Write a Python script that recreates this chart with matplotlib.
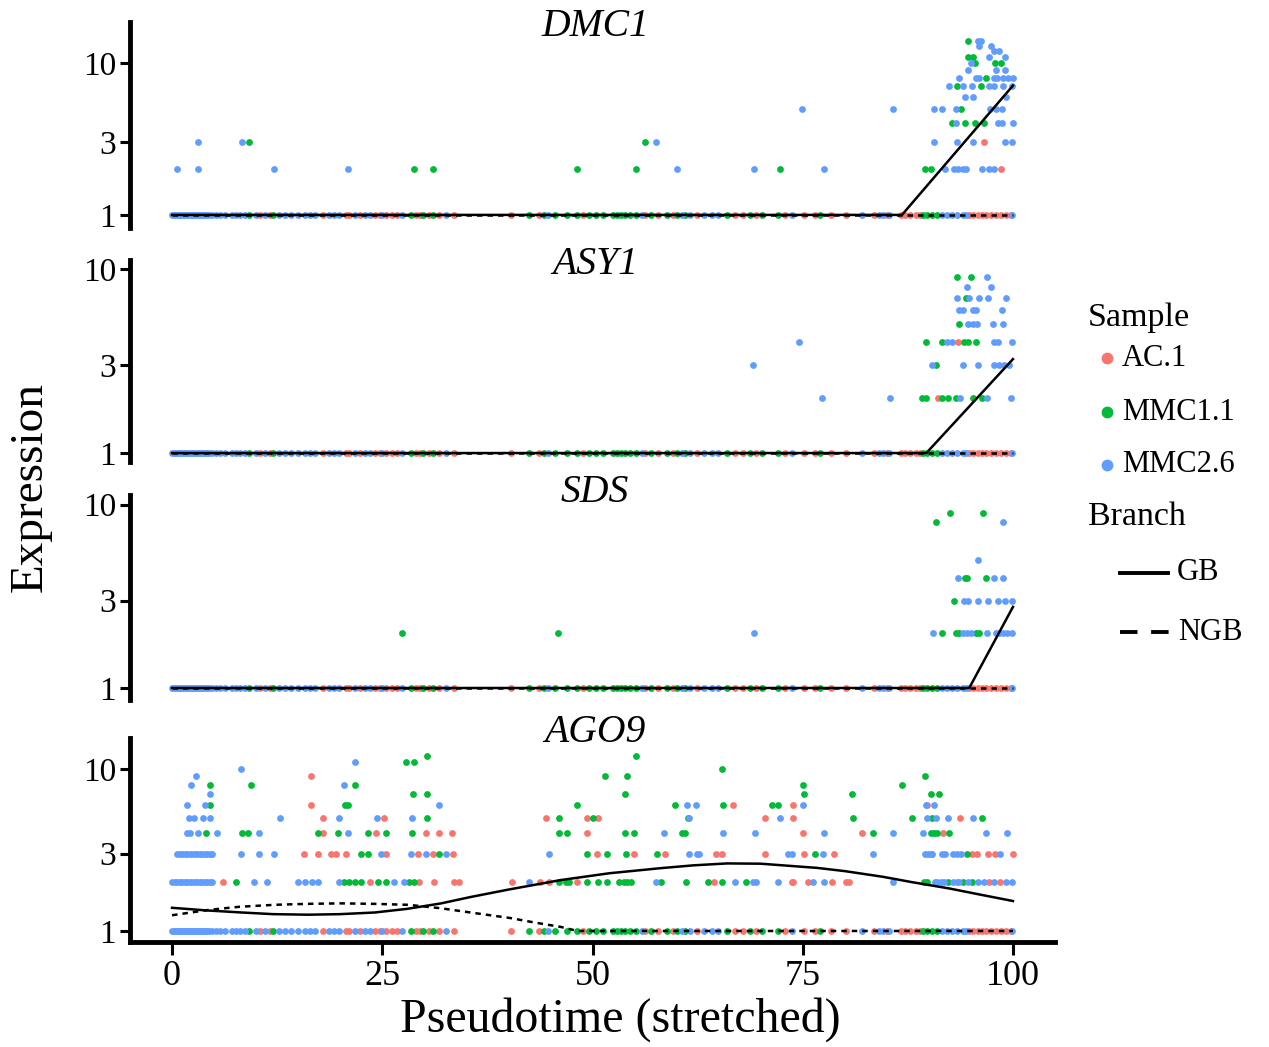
import matplotlib.pyplot as plt
from matplotlib.lines import Line2D
from matplotlib.ticker import NullLocator
import numpy as np

plt.rcParams["font.family"] = ["Liberation Serif", "DejaVu Serif"]

W, H = 1269, 1047

genes = ["DMC1", "ASY1", "SDS", "AGO9"]
samples = ["AC.1", "MMC1.1", "MMC2.6"]
sample_colors = ["#F8766D", "#00BA38", "#619CFF"]

# pseudotime of every cell, per sample (these sit on the zero-expression row)
cells_ac = [10.4, 11.6, 18.0, 20.7, 21.1, 22.3, 24.1, 24.7, 25.5, 26.1, 26.7, 29.0,
            29.5, 30.5, 31.8, 33.5, 40.3, 43.6, 48.9, 56.3, 57.8, 59.6, 62.4, 66.9,
            67.9, 69.5, 72.9, 75.2, 76.4, 78.4, 80.2, 83.5, 85.0, 86.7, 87.2, 87.7,
            88.5, 88.9, 94.8, 95.3, 95.8, 96.3, 96.8, 97.4, 98.0, 98.6, 99.2, 99.8]
cells_mmc1 = [9.2, 12.0, 28.4, 29.9, 31.0, 42.5, 44.2, 45.5, 47.0, 48.2, 49.6, 50.4,
              51.2, 52.4, 52.9, 53.4, 53.9, 54.5, 55.2, 57.0, 58.8, 60.0, 61.0, 66.0,
              68.7, 70.1, 72.0, 77.0, 89.3, 89.8, 90.4, 91.0]
cells_mmc2 = [0.0, 0.2, 0.4, 0.6, 0.8, 1.0, 1.2, 1.4, 1.6, 1.8, 2.0, 2.2, 2.4, 2.6,
              2.8, 3.0, 3.2, 3.4, 3.6, 3.8, 4.0, 4.2, 4.4, 4.7, 5.2, 5.7, 6.3, 7.1,
              7.6, 8.1, 8.7, 10.0, 11.0, 12.7, 13.4, 14.2, 15.0, 15.8, 16.4, 17.0,
              18.7, 19.3, 19.9, 21.8, 22.9, 23.5, 25.0, 27.3, 32.6, 44.7, 55.9, 60.7,
              61.6, 63.2, 64.2, 64.9, 73.7, 82.1, 84.1, 84.6, 85.2, 91.6, 92.2, 92.8,
              93.4, 94.0, 94.4, 99.9]

# expressed cells: expression level -> pseudotimes
dmc1_ac = {2: [98.6], 3: [96.6]}
dmc1_mmc1 = {2: [28.8, 31.0, 48.2, 55.2, 72.3, 89.5, 90.3], 3: [9.1, 56.3],
             4: [92.7, 94.3, 95.5, 96.6], 5: [93.8], 7: [93.4, 96.2], 8: [96.8],
             10: [95.5, 97.9, 98.6], 11: [94.6, 95.2], 14: [94.6]}
dmc1_mmc2 = {2: [0.6, 3.1, 12.1, 20.9, 60.0, 69.2, 77.5, 91.9, 93.0, 93.5, 94.0, 94.4,
                 96.3, 97.2, 97.8],
             3: [3.1, 8.3, 57.6, 90.6, 93.4, 95.3, 99.1, 99.9],
             4: [93.2, 98.2, 98.7, 100.0],
             5: [74.9, 85.7, 90.6, 91.6, 93.2, 97.3, 98.0, 98.7],
             6: [94.3, 95.3, 99.2],
             7: [92.4, 94.0, 95.1, 97.2, 97.7, 98.8, 99.9],
             8: [93.6, 95.6, 96.0, 97.7, 98.1, 98.8, 99.4, 100.0],
             9: [94.6, 98.0, 99.1], 10: [95.0], 11: [97.2, 99.0], 12: [97.8, 98.3],
             13: [96.0, 97.4], 14: [95.8, 96.2]}

asy1_ac = {2: [91.1], 4: [93.5]}
asy1_mmc1 = {2: [89.2, 89.7, 91.6, 92.3, 93.2, 95.3, 96.3], 3: [90.9],
             4: [89.7, 91.6, 94.2, 94.6, 95.6], 5: [93.6], 7: [94.4], 9: [93.4, 95.0]}
asy1_mmc2 = {2: [77.3, 85.4, 93.7, 96.9, 99.8],
             3: [69.1, 90.4, 94.0, 95.9, 97.7, 98.3, 98.9, 99.5],
             4: [74.6, 92.2, 92.8, 97.8, 98.2, 99.9],
             5: [94.7, 95.2, 95.7, 97.6, 98.8],
             6: [93.6, 94.1, 95.2, 95.6, 98.7],
             7: [93.4, 94.8, 96.0, 97.0, 99.2],
             8: [94.5, 97.4], 9: [96.9]}

sds_ac = {}
sds_mmc1 = {2: [27.3, 45.9, 91.6, 93.2, 93.6, 95.6, 96.0], 3: [93.0],
            4: [94.3, 94.5, 96.8], 8: [90.9], 9: [92.5, 96.4]}
sds_mmc2 = {2: [69.2, 90.5, 94.1, 94.5, 95.0, 96.9, 98.0, 98.3, 98.8, 99.3, 99.9],
            3: [94.2, 94.6, 95.9, 97.0, 98.2, 99.0, 99.9],
            4: [93.5, 97.8, 98.8], 5: [95.9], 8: [98.8]}

ago9_ac = {2: [6.1, 23.5, 29.4, 31.1, 33.5, 34.1, 40.4, 43.7, 44.8, 48.2, 64.4, 73.7,
               73.9, 75.6, 78.5, 80.2, 80.5, 97.2, 98.4],
           3: [15.7, 17.3, 18.9, 19.5, 20.7, 25.4, 29.3, 31.0, 33.4, 50.5, 54.9, 58.6,
               64.7, 65.4, 70.5, 75.1, 78.7, 95.1, 95.7, 97.0, 97.9, 100.0],
           4: [18.0, 24.3, 30.2, 31.7, 33.3, 49.3, 75.0, 82.1, 91.7],
           5: [18.0, 25.2, 44.5, 49.3, 50.6, 70.5, 73.8, 93.7],
           6: [16.5, 66.7, 73.8, 89.8], 9: [16.5]}
ago9_mmc1 = {2: [7.6, 20.5, 21.1, 21.7, 22.5, 24.5, 25.5, 28.2, 28.8, 46.0, 46.9, 47.2,
                 49.4, 50.6, 51.7, 53.2, 53.7, 54.1, 54.6, 58.2, 61.1, 63.7, 65.4, 68.2,
                 89.4, 89.8, 92.3, 94.1, 95.1],
             3: [22.5, 23.3, 31.8, 49.3, 51.7, 54.0, 57.7, 76.4, 94.5],
             4: [4.0, 8.3, 9.0, 17.3, 19.7, 23.3, 25.5, 28.5, 46.0, 47.0, 53.9, 54.9,
                 60.7, 61.0, 83.3, 90.3, 90.6, 91.0, 92.4],
             5: [30.3, 46.0, 50.1, 61.3, 81.0, 88.0, 90.4, 96.3],
             6: [4.5, 20.6, 20.9, 48.2, 59.8, 65.5, 71.4, 72.0],
             7: [28.7, 30.3, 53.9, 75.1, 80.9, 90.2, 91.2],
             8: [4.5, 9.4, 21.7, 75.0, 86.8], 9: [51.5, 54.1, 89.5], 10: [65.4],
             11: [27.8, 28.8], 12: [30.3, 55.2]}
ago9_mmc2 = {2: [0.0, 0.3, 0.6, 0.9, 1.2, 1.5, 1.8, 2.1, 2.4, 2.7, 3.0, 3.3, 3.6, 3.9,
                 4.2, 4.5, 4.7, 9.8, 11.3, 15.0, 15.8, 16.6, 17.3, 19.8, 26.4, 27.6,
                 42.5, 57.5, 66.9, 69.1, 69.4, 72.0, 76.2, 77.5, 85.7, 90.7, 91.0, 91.4,
                 91.8, 92.9, 93.3, 93.6, 94.7, 95.8, 96.5, 97.8, 99.2, 99.9],
             3: [0.6, 0.9, 1.2, 1.5, 1.8, 2.1, 2.4, 2.7, 3.0, 3.3, 3.6, 3.9, 4.2, 4.5,
                 4.7, 8.2, 10.3, 12.1, 24.8, 28.4, 30.2, 32.6, 44.8, 61.5, 62.4, 62.7,
                 73.3, 73.7, 77.4, 83.3, 89.5, 89.9, 90.2, 90.4, 91.6, 91.9, 92.9, 93.4,
                 93.8, 98.4],
             4: [1.8, 2.1, 3.1, 5.3, 10.3, 20.9, 58.5, 65.5, 69.3, 77.5, 85.7, 89.3,
                 96.8, 99.3],
             5: [2.0, 2.6, 3.7, 4.5, 12.8, 19.8, 24.4, 28.5, 61.5, 72.3, 89.8, 90.9,
                 92.3, 95.3],
             6: [1.8, 3.9, 31.8, 61.2, 62.3, 75.0, 89.6, 90.6],
             7: [4.5], 8: [2.3, 20.5], 9: [2.8], 10: [8.2], 11: [21.7]}

# fitted branch curves (pseudotime, expression)
dmc1_gb = ([0, 86.8, 100], [1, 1, 7.1])
dmc1_ngb = ([0, 100], [1, 1])
asy1_gb = ([0, 89.7, 100], [1, 1, 3.24])
asy1_ngb = ([0, 100], [1, 1])
sds_gb = ([0, 94.8, 100], [1, 1, 2.77])
sds_ngb = ([0, 100], [1, 1])
ago9_gb = ([0, 4, 8.3, 12, 16.2, 20, 24.1, 28, 32, 35.5, 40, 46.2, 52, 58.1, 62, 66,
            70, 76.7, 80, 84.5, 88, 92.4, 96, 100],
           [1.39, 1.34, 1.30, 1.27, 1.26, 1.27, 1.30, 1.37, 1.48, 1.62, 1.80, 2.06,
            2.27, 2.44, 2.54, 2.61, 2.60, 2.45, 2.34, 2.16, 2.00, 1.83, 1.68, 1.53])
ago9_ngb = ([0, 4.4, 8, 12.2, 16, 20.1, 24, 28.1, 32, 35.5, 40.3, 43, 46.2, 48.2, 100],
            [1.25, 1.35, 1.41, 1.45, 1.47, 1.48, 1.47, 1.45, 1.38, 1.30, 1.20, 1.13,
             1.06, 1.0, 1.0])

expr = {"DMC1": [dmc1_ac, dmc1_mmc1, dmc1_mmc2],
        "ASY1": [asy1_ac, asy1_mmc1, asy1_mmc2],
        "SDS": [sds_ac, sds_mmc1, sds_mmc2],
        "AGO9": [ago9_ac, ago9_mmc1, ago9_mmc2]}
curves = {"DMC1": (dmc1_gb, dmc1_ngb), "ASY1": (asy1_gb, asy1_ngb),
          "SDS": (sds_gb, sds_ngb), "AGO9": (ago9_gb, ago9_ngb)}
cells = [cells_ac, cells_mmc1, cells_mmc2]

# panel frames in pixels (top, bottom) and y limits
panel_px = [(22, 228), (260, 462), (495, 700), (738, 942)]
ylims = [(0.82, 18.6), (0.894, 11.2), (0.86, 11.3), (0.855, 15.5)]
title_y = [27, 265, 492, 733]

fig = plt.figure(figsize=(W / 100, H / 100), dpi=100)

pt_size = 24
for i, gene in enumerate(genes):
    top, bot = panel_px[i]
    ax = fig.add_axes([130 / W, 1 - bot / H, 925 / W, (bot - top) / H])
    ax.set_yscale("log")
    ax.set_xlim(-5, 105)
    ax.set_ylim(*ylims[i])

    for c, col in zip(cells, sample_colors):
        ax.scatter(c, np.ones(len(c)), s=pt_size, color=col, lw=0, zorder=2)
    for d, col in zip(expr[gene], sample_colors):
        for lvl, ts in d.items():
            ax.scatter(ts, np.full(len(ts), lvl), s=pt_size, color=col, lw=0, zorder=2)

    gb, ngb = curves[gene]
    ax.plot(gb[0], gb[1], color="black", lw=1.8, zorder=4)
    ax.plot(ngb[0], ngb[1], color="black", lw=1.8, ls=(0, (2.2, 2.0)), zorder=4)

    ax.set_yticks([1, 3, 10])
    ax.set_yticklabels(["1", "3", "10"])
    ax.yaxis.set_minor_locator(NullLocator())
    ax.tick_params(axis="y", labelsize=24, length=7, width=2.2, pad=3)
    ax.spines["top"].set_visible(False)
    ax.spines["right"].set_visible(False)
    ax.spines["left"].set_linewidth(3.5)
    if i < 3:
        ax.spines["bottom"].set_visible(False)
        ax.set_xticks([])
    else:
        ax.spines["bottom"].set_linewidth(3.5)
        ax.set_xticks([0, 25, 50, 75, 100])
        ax.set_xticklabels(["0", "25", "50", "75", "100"])
        ax.tick_params(axis="x", labelsize=26, length=9, width=2.2, pad=4)

    fig.text(595 / W, 1 - title_y[i] / H, gene, fontsize=28.5, style="italic",
             ha="center", va="center")

fig.text(30 / W, 1 - 487 / H, "Expression", fontsize=34, rotation=90,
         ha="center", va="center")
fig.text(620 / W, 1 - 1020 / H, "Pseudotime (stretched)", fontsize=34.5,
         ha="center", va="center")

# legend
fig.text(1088 / W, 1 - 318 / H, "Sample", fontsize=24.5, ha="left", va="center")
for lab, col, yy in zip(samples, sample_colors, [358, 412, 465]):
    fig.add_artist(Line2D([1107 / W], [1 - yy / H], marker="o", ms=8.5, color=col,
                          mec="none", transform=fig.transFigure))
    fig.text(1122 / W, 1 - yy / H, lab, fontsize=22, ha="left", va="center")
fig.text(1088 / W, 1 - 517 / H, "Branch", fontsize=24.5, ha="left", va="center")
fig.add_artist(Line2D([1120 / W, 1168 / W], [1 - 573 / H] * 2, color="black",
                      lw=2.8, transform=fig.transFigure))
fig.text(1177 / W, 1 - 573 / H, "GB", fontsize=22, ha="left", va="center")
fig.add_artist(Line2D([1120 / W, 1170 / W], [1 - 632 / H] * 2, color="black",
                      lw=2.8, ls=(0, (4.5, 3.5)), transform=fig.transFigure))
fig.text(1178 / W, 1 - 632 / H, "NGB", fontsize=22, ha="left", va="center")

fig.savefig("out.png", dpi=100)
